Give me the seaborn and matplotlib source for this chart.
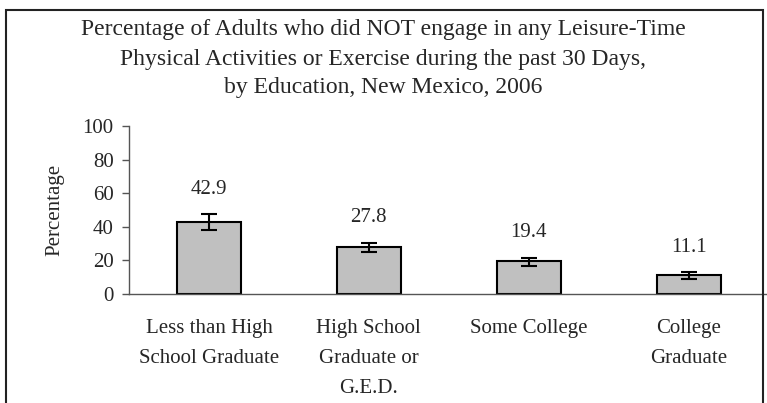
import matplotlib
matplotlib.use("Agg")
import matplotlib.pyplot as plt
import numpy as np
import pandas as pd
import seaborn as sns
from matplotlib.patches import Rectangle

# values
education = ["Less than High\nSchool Graduate", "High School\nGraduate or\nG.E.D.",
             "Some College", "College\nGraduate"]
percent = [42.9, 27.8, 19.4, 11.1]
ci_low = [37.8, 24.9, 16.8, 9.2]
ci_high = [47.4, 30.6, 21.4, 12.8]

title = ("Percentage of Adults who did NOT engage in any Leisure-Time\n"
         "Physical Activities or Exercise during the past 30 Days,\n"
         "by Education, New Mexico, 2006")

sns.set_style("white")
plt.rcParams["font.family"] = ["Liberation Serif", "DejaVu Serif"]
plt.rcParams["font.size"] = 15

df = pd.DataFrame({"education": education, "percent": percent})

fig = plt.figure(figsize=(7.67, 4.03), dpi=100)
ax = fig.add_axes([129 / 767, 1 - 294 / 403, 1 - 129 / 767, (294 - 126) / 403])

sns.barplot(data=df, x="education", y="percent", order=education, color="#c0c0c0",
            edgecolor="black", linewidth=1.5, width=0.4, saturation=1, ax=ax)

xs = np.arange(len(education))
lo = np.array(percent) - np.array(ci_low)
hi = np.array(ci_high) - np.array(percent)
ax.errorbar(xs, percent, yerr=[lo, hi], fmt="none", ecolor="black",
            elinewidth=1.5, capsize=6, capthick=1.5)

for x, v, top in zip(xs, percent, ci_high):
    ax.text(x, top + 15, f"{v:.1f}", ha="center", va="center", fontsize=15)

ax.set_xlim(-0.5, 3.49)
ax.set_ylim(0, 100)
ax.set_yticks([0, 20, 40, 60, 80, 100])
ax.set_xticks(xs)
ax.set_xticklabels(education, linespacing=1.78)
ax.set_xticks([-0.5, 0.5, 1.5, 2.5], minor=True)
ax.tick_params(axis="x", which="major", length=0, pad=18)
ax.tick_params(axis="x", which="minor", length=5, width=1, color="#555555", direction="out")
ax.tick_params(axis="y", length=5, width=1, color="#555555", direction="out", left=True, pad=6)
ax.set_xlabel("")
ax.set_ylabel("Percentage", labelpad=13)

for side in ["top", "right"]:
    ax.spines[side].set_visible(False)
for side in ["left", "bottom"]:
    ax.spines[side].set_color("#555555")
    ax.spines[side].set_linewidth(1)

fig.text(383 / 767, 1 - 59 / 403, title, ha="center", va="center",
         fontsize=17, linespacing=1.5)

# outer frame, bottom edge falls outside the image
fig.patches.append(Rectangle((6 / 767, -0.2), (763 - 6) / 767, 1.2 - 10 / 403,
                             transform=fig.transFigure, fill=False,
                             edgecolor="#222222", linewidth=1.5))

fig.savefig("out.png", dpi=100)
